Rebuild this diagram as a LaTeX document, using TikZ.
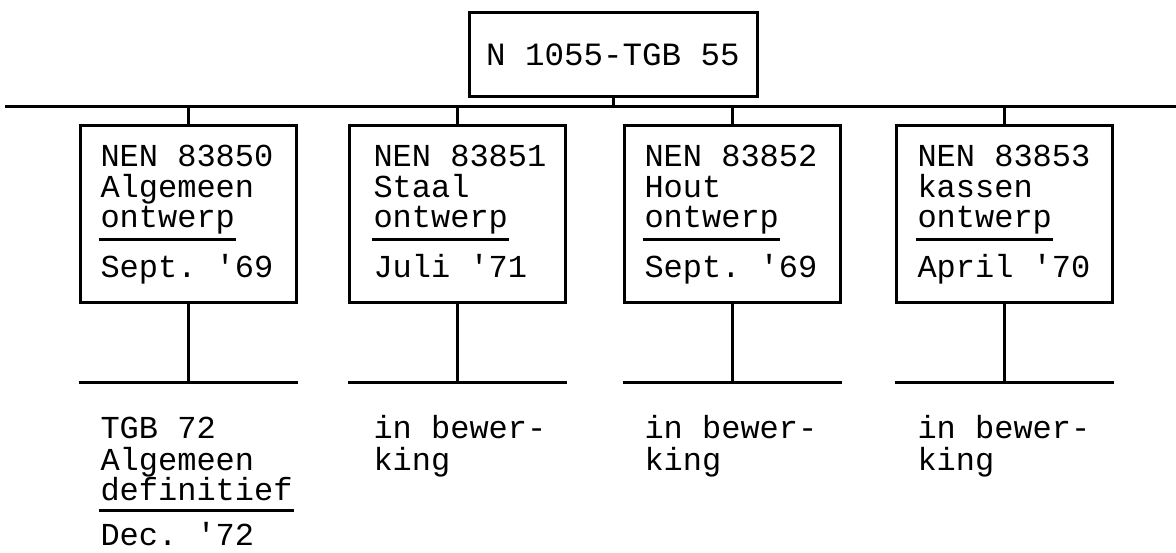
\documentclass[tikz,border=0pt]{standalone}
\usepackage{fontspec}
\setmonofont{Liberation Mono}
\begin{document}
\begin{tikzpicture}[x=1pt,y=-1pt,
  line width=3pt,
  stdbox/.style={draw, rectangle, inner sep=0pt, minimum width=216pt, minimum height=177pt},
  topbox/.style={draw, rectangle, inner sep=0pt, minimum width=288pt, minimum height=84pt,
    font=\ttfamily\fontsize{32.5}{32}\selectfont, text depth=0pt},
  txt/.style={inner sep=0pt, anchor=base west, font=\ttfamily\fontsize{32}{32}\selectfont},
  uline/.style={line width=3pt}]
\useasboundingbox (0,0) rectangle (1176,553);

% top box and bus
\node[topbox] (top) at (613,55) {N 1055-TGB 55};
\coordinate (busL) at (5,107);
\coordinate (busR) at (1176,107);
\draw (busL) -- (busR);
\draw (top.south) -- (top.south |- busL);

% boxes
\node[stdbox] (b1) at (188,214.5) {};
\node[stdbox] (b2) at (457.5,214.5) {};
\node[stdbox] (b3) at (732.5,214.5) {};
\node[stdbox] (b4) at (1004.5,214.5) {};

\foreach \b in {b1,b2,b3,b4}{
  \draw (\b.north) -- (\b.north |- busL);
}

% lower lines
\coordinate (low) at (0,383);
\foreach \b in {b1,b2,b3,b4}{
  \draw (\b.south) -- (\b.south |- low);
  \draw (\b.south west |- low) -- (\b.south east |- low);
}

% box texts
\node[txt] (t1a) at (99,167) {NEN 83850};
\node[txt] (t1b) at (99,198) {Algemeen};
\node[txt] (t1c) at (99,228) {ontwerp};
\node[txt] (t1d) at (99,278) {Sept. '69};

\node[txt] (t2a) at (372,167) {NEN 83851};
\node[txt] (t2b) at (372,198) {Staal};
\node[txt] (t2c) at (372,228) {ontwerp};
\node[txt] (t2d) at (372,278) {Juli '71};

\node[txt] (t3a) at (643,167) {NEN 83852};
\node[txt] (t3b) at (643,198) {Hout};
\node[txt] (t3c) at (643,228) {ontwerp};
\node[txt] (t3d) at (643,278) {Sept. '69};

\node[txt] (t4a) at (916,167) {NEN 83853};
\node[txt] (t4b) at (916,198) {kassen};
\node[txt] (t4c) at (916,228) {ontwerp};
\node[txt] (t4d) at (916,278) {April '70};

\foreach \t in {t1c,t2c,t3c,t4c}{
  \draw[uline] ([yshift=-12pt]\t.base west) -- ([yshift=-12pt]\t.base east);
}

% bottom texts
\node[txt] (s1a) at (99,438) {TGB 72};
\node[txt] (s1b) at (99,470) {Algemeen};
\node[txt] (s1c) at (99,500) {definitief};
\node[txt] (s1d) at (99,545) {Dec. '72};
\draw[uline] ([yshift=-10pt]s1c.base west) -- ([yshift=-10pt]s1c.base east);

\node[txt] (s2a) at (372,438) {in bewer-};
\node[txt] (s2b) at (372,470) {king};
\node[txt] (s3a) at (643,438) {in bewer-};
\node[txt] (s3b) at (643,470) {king};
\node[txt] (s4a) at (916,438) {in bewer-};
\node[txt] (s4b) at (916,470) {king};
\end{tikzpicture}
\end{document}
